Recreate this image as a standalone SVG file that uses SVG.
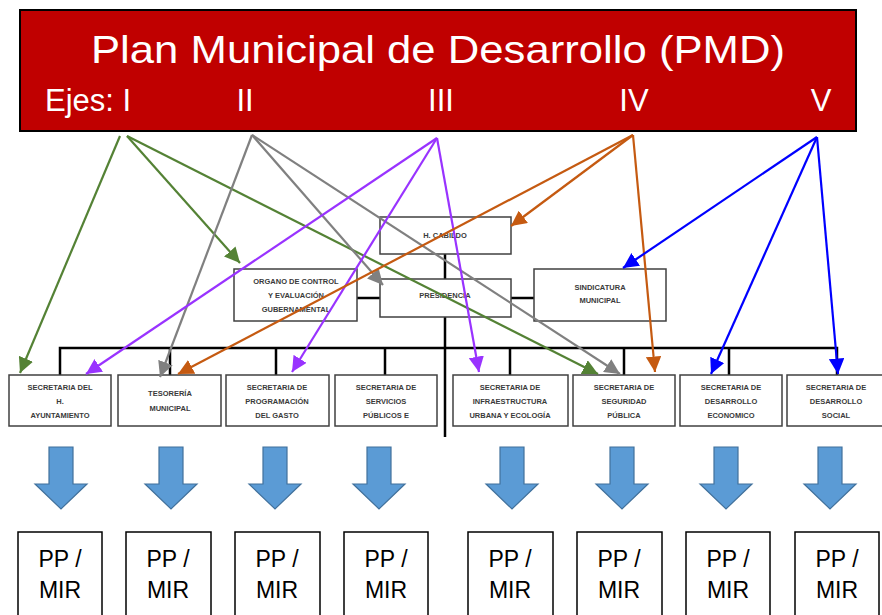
<svg xmlns="http://www.w3.org/2000/svg" xmlns:xlink="http://www.w3.org/1999/xlink" width="882" height="615" viewBox="0 0 882 615">
<style>
.node{fill:#fff;stroke:#404040;stroke-width:1.5}
.nt{font-family:"Liberation Sans",Arial,sans-serif;font-size:7.5px;font-weight:bold;fill:#3a3a3a;text-anchor:middle}
.pp{fill:#fff;stroke:#000;stroke-width:1.5}
.ppt{font-family:"Liberation Sans",Arial,sans-serif;font-size:23px;fill:#000;text-anchor:middle}
.org{stroke:#000;stroke-width:2.5;fill:none}
.ln{stroke-width:2.2;fill:none}
.blk{fill:#5B9BD5;stroke:#41719C;stroke-width:1.2}
.hd{font-family:"Liberation Sans",Arial,sans-serif;fill:#fff}
</style>
<defs>
<marker id="mg" viewBox="0 0 10 10" refX="10" refY="5" markerWidth="7" markerHeight="7" orient="auto" markerUnits="strokeWidth"><path d="M0,0 L10,5 L0,10 z" fill="#548235"/></marker>
<marker id="mr" viewBox="0 0 10 10" refX="10" refY="5" markerWidth="7" markerHeight="7" orient="auto" markerUnits="strokeWidth"><path d="M0,0 L10,5 L0,10 z" fill="#808080"/></marker>
<marker id="mp" viewBox="0 0 10 10" refX="10" refY="5" markerWidth="7" markerHeight="7" orient="auto" markerUnits="strokeWidth"><path d="M0,0 L10,5 L0,10 z" fill="#9933FF"/></marker>
<marker id="mo" viewBox="0 0 10 10" refX="10" refY="5" markerWidth="7" markerHeight="7" orient="auto" markerUnits="strokeWidth"><path d="M0,0 L10,5 L0,10 z" fill="#C55A11"/></marker>
<marker id="mb" viewBox="0 0 10 10" refX="10" refY="5" markerWidth="7" markerHeight="7" orient="auto" markerUnits="strokeWidth"><path d="M0,0 L10,5 L0,10 z" fill="#0000FF"/></marker>
<path id="blk" class="blk" d="M-12,447 L12,447 L12,484 L26,484 L0,509 L-26,484 L-12,484 Z"/>
</defs>

<g id="header">
<rect x="20" y="10" width="836" height="121" fill="#C00000" stroke="#000" stroke-width="2"/>
<text class="hd" x="438" y="63" font-size="39" text-anchor="middle" textLength="694" lengthAdjust="spacingAndGlyphs">Plan Municipal de Desarrollo (PMD)</text>
<text class="hd" x="45" y="111" font-size="31">Ejes: I</text>
<text class="hd" x="245" y="111" font-size="31" text-anchor="middle">II</text>
<text class="hd" x="441" y="111" font-size="31" text-anchor="middle">III</text>
<text class="hd" x="634" y="111" font-size="31" text-anchor="middle">IV</text>
<text class="hd" x="821" y="111" font-size="31" text-anchor="middle">V</text>
</g>

<g id="org-connectors">
<path class="org" d="M445,254 V279 M445,317 V437 M357,298 H380 M511,298 H534"/>
<path class="org" d="M60,375 V348 H837 V375 M170,348 V375 M276,348 V375 M385,348 V375 M510,348 V375 M624,348 V375 M729,348 V375"/>
</g>

<g id="n-cabildo"><rect class="node" x="380" y="217" width="131" height="37"/><text class="nt" x="445" y="238">H. CABILDO</text></g>
<g id="n-presidencia"><rect class="node" x="380" y="279" width="131" height="38"/><text class="nt" x="445" y="298">PRESIDENCIA</text></g>
<g id="n-organo"><rect class="node" x="234" y="269" width="123" height="52"/><text class="nt" x="296" y="284">ORGANO  DE CONTROL</text><text class="nt" x="296" y="298">Y EVALUACIÓN</text><text class="nt" x="296" y="312">GUBERNAMENTAL</text></g>
<g id="n-sindicatura"><rect class="node" x="534" y="269" width="132" height="52"/><text class="nt" x="600" y="290">SINDICATURA</text><text class="nt" x="600" y="303">MUNICIPAL</text></g>

<g id="n-s1"><rect class="node" x="9" y="375" width="102" height="51"/><text class="nt" x="60" y="390">SECRETARIA DEL</text><text class="nt" x="60" y="404">H.</text><text class="nt" x="60" y="418">AYUNTAMIENTO</text></g>
<g id="n-s2"><rect class="node" x="118" y="375" width="103" height="51"/><text class="nt" x="170" y="396">TESORERÍA</text><text class="nt" x="170" y="411">MUNICIPAL</text></g>
<g id="n-s3"><rect class="node" x="226" y="375" width="103" height="51"/><text class="nt" x="277" y="390">SECRETARIA DE</text><text class="nt" x="277" y="404">PROGRAMACIÓN</text><text class="nt" x="277" y="418">DEL GASTO</text></g>
<g id="n-s4"><rect class="node" x="335" y="375" width="102" height="51"/><text class="nt" x="386" y="390">SECRETARIA DE</text><text class="nt" x="386" y="404">SERVICIOS</text><text class="nt" x="386" y="418">PÚBLICOS  E</text></g>
<g id="n-s5"><rect class="node" x="453" y="375" width="115" height="51"/><text class="nt" x="510" y="390">SECRETARIA DE</text><text class="nt" x="510" y="404">INFRAESTRUCTURA</text><text class="nt" x="510" y="418">URBANA Y ECOLOGÍA</text></g>
<g id="n-s6"><rect class="node" x="573" y="375" width="102" height="51"/><text class="nt" x="624" y="390">SECRETARIA DE</text><text class="nt" x="624" y="404">SEGURIDAD</text><text class="nt" x="624" y="418">PÚBLICA</text></g>
<g id="n-s7"><rect class="node" x="680" y="375" width="102" height="51"/><text class="nt" x="731" y="390">SECRETARIA DE</text><text class="nt" x="731" y="404">DESARROLLO</text><text class="nt" x="731" y="418">ECONOMICO</text></g>
<g id="n-s8"><rect class="node" x="787" y="375" width="100" height="51"/><text class="nt" x="836" y="390">SECRETARIA DE</text><text class="nt" x="836" y="404">DESARROLLO</text><text class="nt" x="836" y="418">SOCIAL</text></g>

<g id="block-arrows">
<use xlink:href="#blk" href="#blk" x="61"/>
<use xlink:href="#blk" href="#blk" x="171"/>
<use xlink:href="#blk" href="#blk" x="275"/>
<use xlink:href="#blk" href="#blk" x="379"/>
<use xlink:href="#blk" href="#blk" x="512"/>
<use xlink:href="#blk" href="#blk" x="622"/>
<use xlink:href="#blk" href="#blk" x="726"/>
<use xlink:href="#blk" href="#blk" x="830"/>
</g>

<g id="n-pp1"><rect class="pp" x="18" y="532" width="84" height="95"/><text class="ppt" x="60" y="567">PP /</text><text class="ppt" x="60" y="598">MIR</text></g>
<g id="n-pp2"><rect class="pp" x="126" y="532" width="85" height="95"/><text class="ppt" x="168" y="567">PP /</text><text class="ppt" x="168" y="598">MIR</text></g>
<g id="n-pp3"><rect class="pp" x="235" y="532" width="85" height="95"/><text class="ppt" x="277" y="567">PP /</text><text class="ppt" x="277" y="598">MIR</text></g>
<g id="n-pp4"><rect class="pp" x="344" y="532" width="84" height="95"/><text class="ppt" x="386" y="567">PP /</text><text class="ppt" x="386" y="598">MIR</text></g>
<g id="n-pp5"><rect class="pp" x="468" y="532" width="85" height="95"/><text class="ppt" x="510" y="567">PP /</text><text class="ppt" x="510" y="598">MIR</text></g>
<g id="n-pp6"><rect class="pp" x="577" y="532" width="85" height="95"/><text class="ppt" x="619" y="567">PP /</text><text class="ppt" x="619" y="598">MIR</text></g>
<g id="n-pp7"><rect class="pp" x="686" y="532" width="84" height="95"/><text class="ppt" x="728" y="567">PP /</text><text class="ppt" x="728" y="598">MIR</text></g>
<g id="n-pp8"><rect class="pp" x="795" y="532" width="84" height="95"/><text class="ppt" x="837" y="567">PP /</text><text class="ppt" x="837" y="598">MIR</text></g>

<g id="connectors">
<path class="ln" stroke="#548235" marker-end="url(#mg)" d="M120,136 L20,373"/>
<path class="ln" stroke="#548235" marker-end="url(#mg)" d="M127,136 L240,263"/>
<path class="ln" stroke="#548235" marker-end="url(#mg)" d="M127,136 L598,374"/>
<path class="ln" stroke="#808080" marker-end="url(#mr)" d="M252,135 L160,377"/>
<path class="ln" stroke="#808080" marker-end="url(#mr)" d="M252,135 L383,285"/>
<path class="ln" stroke="#808080" marker-end="url(#mr)" d="M252,135 L620,374"/>
<path class="ln" stroke="#9933FF" marker-end="url(#mp)" d="M437,138 L86,374"/>
<path class="ln" stroke="#9933FF" marker-end="url(#mp)" d="M437,138 L292,372"/>
<path class="ln" stroke="#9933FF" marker-end="url(#mp)" d="M437,138 L479,372"/>
<path class="ln" stroke="#C55A11" marker-end="url(#mo)" d="M633,135 L511,226"/>
<path class="ln" stroke="#C55A11" marker-end="url(#mo)" d="M633,135 L178,374"/>
<path class="ln" stroke="#C55A11" marker-end="url(#mo)" d="M633,135 L655,372"/>
<path class="ln" stroke="#0000FF" marker-end="url(#mb)" d="M817,137 L623,268"/>
<path class="ln" stroke="#0000FF" marker-end="url(#mb)" d="M817,137 L711,374"/>
<path class="ln" stroke="#0000FF" marker-end="url(#mb)" d="M817,137 L838,374"/>
</g>
</svg>
